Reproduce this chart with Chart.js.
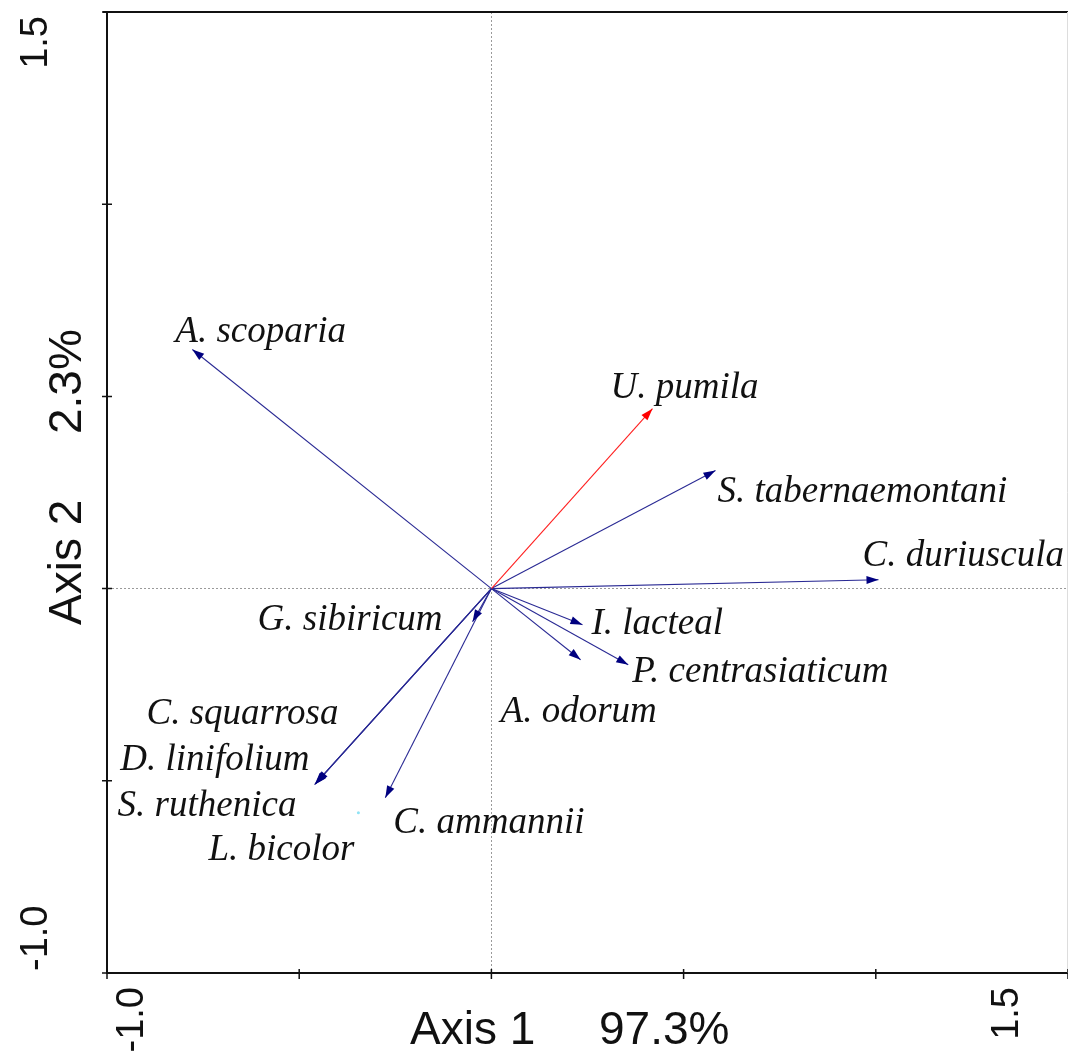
<!DOCTYPE html>
<html>
<head>
<meta charset="utf-8">
<script src="https://cdn.jsdelivr.net/npm/chart.js@4.4.0/dist/chart.umd.min.js"></script>
<style>
  html, body { margin: 0; padding: 0; background: #fff; overflow: hidden; }
  canvas { display: block; }
</style>
</head>
<body>
<canvas id="biplot" width="1068" height="1055"></canvas>
<script>
// species scores on the two ordination axes
var species = ["A. scoparia", "U. pumila", "S. tabernaemontani", "C. duriuscula", "I. lacteal",
  "P. centrasiaticum", "A. odorum", "G. sibiricum", "C. squarrosa", "D. linifolium",
  "S. ruthenica", "L. bicolor", "C. ammannii"];
var axis1 = [-0.778, 0.419, 0.583, 1.007, 0.237, 0.356, 0.232, -0.049, -0.455, -0.458, -0.460, -0.346, -0.276];
var axis2 = [0.622, 0.468, 0.307, 0.023, -0.094, -0.198, -0.185, -0.086, -0.505, -0.508, -0.510, -0.583, -0.544];

// axis ticks and titles
var tickValues = [-1.0, -0.5, 0, 0.5, 1.0, 1.5];
var tickLabels = ["-1.0", "", "", "", "", "1.5"];
var xTitle = ["Axis 1", "97.3%"];
var yTitle = ["Axis 2", "2.3%"];

// styling (kept apart from the data)
var arrowColor = ["#2a2a94", "#ff2020", "#2a2a94", "#2a2a94", "#2a2a94", "#2a2a94", "#2a2a94",
  "#2a2a94", "#2a2a94", "#2a2a94", "#2a2a94", null, "#2a2a94"];
// label offset from the arrow tip, in pixels (left / baseline)
var labelOffset = [[-17, -8], [-42, -11], [2, 31], [-16, -14], [9, 9], [4, 17], [-80, 62],
  [-215, 8], [-170, -59], [-195, -14], [-197, 31], [-150, 47], [8, 35]];

var datasets = species.map(function(name, i) {
  if (!arrowColor[i]) {
    // only a faint dot is visible for this one
    return {
      label: name, data: [{x: axis1[i], y: axis2[i]}],
      showLine: false, pointRadius: 1.5, pointBackgroundColor: "#8fe3f5", pointBorderWidth: 0
    };
  }
  return {
    label: name,
    data: [{x: 0, y: 0}, {x: axis1[i], y: axis2[i]}],
    showLine: true, borderColor: arrowColor[i], borderWidth: 1.1,
    pointRadius: 0, arrow: true, headColor: arrowColor[i] === "#ff2020" ? "#ff0000" : "#000080"
  };
});

function rotText(ctx, text, x, y, align) {
  ctx.save();
  ctx.translate(x, y);
  ctx.rotate(-Math.PI / 2);
  ctx.textAlign = align;
  ctx.textBaseline = "alphabetic";
  ctx.fillText(text, 0, 0);
  ctx.restore();
}

var overlay = {
  id: "overlay",
  afterDatasetsDraw: function(chart) {
    var ctx = chart.ctx, xs = chart.scales.x, ys = chart.scales.y, a = chart.chartArea;

    // arrow heads
    chart.data.datasets.forEach(function(ds, i) {
      if (!ds.arrow) return;
      var pts = chart.getDatasetMeta(i).data;
      var ang = Math.atan2(pts[1].y - pts[0].y, pts[1].x - pts[0].x);
      ctx.save();
      ctx.translate(pts[1].x, pts[1].y);
      ctx.rotate(ang);
      ctx.beginPath();
      ctx.moveTo(0, 0);
      ctx.lineTo(-12, -4);
      ctx.lineTo(-12, 4);
      ctx.closePath();
      ctx.fillStyle = ds.headColor;
      ctx.fill();
      ctx.restore();
    });

    // frame: top and the faint right edge
    ctx.save();
    ctx.strokeStyle = "#111";
    ctx.lineWidth = 2;
    ctx.beginPath();
    ctx.moveTo(a.left - 4, a.top);
    ctx.lineTo(a.right, a.top);
    ctx.stroke();
    ctx.strokeStyle = "#ddd";
    ctx.lineWidth = 1;
    ctx.beginPath();
    ctx.moveTo(a.right - 0.5, a.top);
    ctx.lineTo(a.right - 0.5, a.bottom);
    ctx.stroke();

    // tick marks
    ctx.strokeStyle = "#111";
    ctx.lineWidth = 1.5;
    tickValues.forEach(function(v) {
      var px = xs.getPixelForValue(v), py = ys.getPixelForValue(v);
      ctx.beginPath();
      ctx.moveTo(px, a.bottom - 4);
      ctx.lineTo(px, a.bottom + 6);
      ctx.moveTo(a.left - 5, py);
      ctx.lineTo(a.left + 5, py);
      ctx.stroke();
    });
    ctx.restore();

    // tick labels
    ctx.save();
    ctx.fillStyle = "#111";
    ctx.font = '38px "Liberation Sans", Arial, sans-serif';
    var last = tickValues.length - 1;
    rotText(ctx, tickLabels[0], xs.getPixelForValue(tickValues[0]) + 36, a.bottom + 14, "right");
    rotText(ctx, tickLabels[last], xs.getPixelForValue(tickValues[last]) - 50, a.bottom + 14, "right");
    rotText(ctx, tickLabels[0], a.left - 60, ys.getPixelForValue(tickValues[0]) - 2, "left");
    rotText(ctx, tickLabels[last], a.left - 60, ys.getPixelForValue(tickValues[last]) + 4, "right");

    // axis titles
    ctx.font = '46px "Liberation Sans", Arial, sans-serif';
    ctx.textAlign = "left";
    ctx.textBaseline = "alphabetic";
    ctx.fillText(xTitle[0], 410, a.bottom + 71);
    ctx.fillText(xTitle[1], 599, a.bottom + 71);
    rotText(ctx, yTitle[0], a.left - 26, 625, "left");
    rotText(ctx, yTitle[1], a.left - 26, 434, "left");

    // species labels
    ctx.font = 'italic 37px "Liberation Serif", "Times New Roman", serif';
    ctx.textAlign = "left";
    species.forEach(function(name, i) {
      var px = xs.getPixelForValue(axis1[i]), py = ys.getPixelForValue(axis2[i]);
      ctx.fillText(name, px + labelOffset[i][0], py + labelOffset[i][1]);
    });
    ctx.restore();
  }
};

function crossColor(c) {
  return c.tick && c.tick.value === 0 ? "#9a9a9a" : "rgba(0,0,0,0)";
}

new Chart(document.getElementById("biplot").getContext("2d"), {
  type: "scatter",
  data: { datasets: datasets },
  options: {
    responsive: false,
    animation: false,
    layout: { autoPadding: false, padding: { left: 107, top: 12, right: 0, bottom: 82 } },
    plugins: { legend: { display: false }, tooltip: { enabled: false } },
    scales: {
      x: {
        type: "linear", min: -1, max: 1.5,
        ticks: { display: false, stepSize: 0.5 },
        grid: { drawTicks: false, color: crossColor, lineWidth: 1 },
        border: { display: true, color: "#111", width: 2, dash: [2, 2] }
      },
      y: {
        type: "linear", min: -1, max: 1.5,
        ticks: { display: false, stepSize: 0.5 },
        grid: { drawTicks: false, color: crossColor, lineWidth: 1 },
        border: { display: true, color: "#111", width: 2, dash: [2, 2] }
      }
    }
  },
  plugins: [overlay]
});
</script>
</body>
</html>
